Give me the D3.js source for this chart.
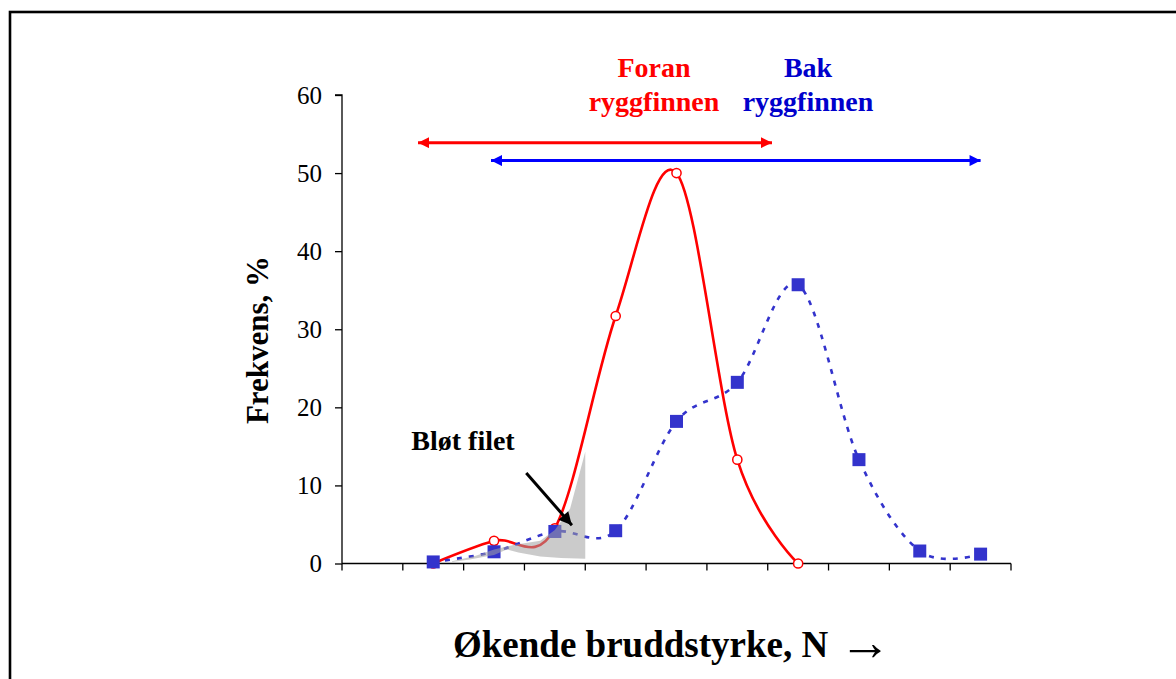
<!DOCTYPE html>
<html>
<head>
<meta charset="utf-8">
<script src="https://cdn.jsdelivr.net/npm/d3@7"></script>
<style>
  html, body { margin: 0; padding: 0; background: #fff; }
  svg { display: block; }
  text { font-family: "Liberation Serif", "Times New Roman", serif; }
</style>
</head>
<body>
<svg id="chart" width="1176" height="679"></svg>
<script>
// ---- data ----
const categories = ["1", "2", "3", "4", "5", "6", "7", "8", "9", "10", "11"];
const foranValues = [null, 0, 2.9, 4.5, 31.7, 50, 13.3, 0, null, null, null];
const bakValues = [null, 0.2, 1.5, 4.1, 4.2, 18.2, 23.2, 35.7, 13.3, 1.6, 1.2];
const yTicks = [0, 10, 20, 30, 40, 50, 60];

const yTitle = "Frekvens, %";
const xTitle = "Økende bruddstyrke, N";
const xTitleArrow = "→";
const foranLabel = ["Foran", "ryggfinnen"];
const bakLabel = ["Bak", "ryggfinnen"];
const softLabel = "Bløt filet";

// annotation ranges in data units (continuous category position, value)
const foranRange = [1.25, 7.07, 53.9];
const bakRange = [2.45, 10.5, 51.6];
const softArea = [[1.81, 0.3], [2.2, 1.0], [2.5, 1.8], [2.84, 2.4], [3.26, 2.9], [3.5, 4.3], [3.75, 7.0], [4.0, 14.3],
                  [4.0, 0.6], [3.6, 0.7], [3.26, 0.9], [2.9, 1.4], [2.71, 1.8], [2.5, 1.1], [2.1, 0.5], [1.81, 0.2]];
const softArrow = [[3.03, 11.6], [3.78, 4.9]];

// ---- layout ----
const svg = d3.select("#chart");
const mLeft = 342, mRight = 1011, mTop = 95, mBottom = 563.5;

const x = d3.scaleBand().domain(categories).range([mLeft, mRight]).padding(0);
const xPos = d3.scaleLinear().domain([0, categories.length]).range([mLeft, mRight]);
const y = d3.scaleLinear().domain([0, 60]).range([mBottom, mTop]);

// frame
svg.append("rect").attr("x", 10).attr("y", 12).attr("width", 1300).attr("height", 800)
  .attr("fill", "none").attr("stroke", "#000").attr("stroke-width", 2.6);

// defs for arrowheads
const defs = svg.append("defs");
function marker(id, color, w, h) {
  defs.append("marker").attr("id", id).attr("viewBox", "0 0 10 10")
    .attr("refX", 10).attr("refY", 5).attr("markerUnits", "userSpaceOnUse")
    .attr("markerWidth", w).attr("markerHeight", h).attr("orient", "auto-start-reverse")
    .append("path").attr("d", "M0,0 L10,5 L0,10 Z").attr("fill", color);
}
marker("arRed", "#ff0000", 13, 11);
marker("arBlue", "#0000ff", 13, 11);
marker("arBlack", "#000", 16, 13);

// axes
const yAxis = d3.axisLeft(y).tickValues(yTicks).tickSize(7).tickPadding(13).tickFormat(d3.format("d"));
const gy = svg.append("g").attr("transform", `translate(${mLeft},0)`).call(yAxis);
gy.select(".domain").attr("stroke", "#000").attr("stroke-width", 1.3).attr("d", `M-7,${y(60)}H0V${y(0)}`);
gy.selectAll(".tick line").attr("stroke", "#000").attr("stroke-width", 1.3);
gy.selectAll(".tick text").attr("font-size", 25).attr("fill", "#000")
  .attr("font-family", "Liberation Serif, serif");

const xBounds = d3.range(categories.length + 1).map(i => xPos(i));
const gx = svg.append("g");
gx.append("line").attr("x1", mLeft).attr("x2", mRight).attr("y1", mBottom).attr("y2", mBottom)
  .attr("stroke", "#000").attr("stroke-width", 1.3);
gx.selectAll("line.t").data(xBounds).join("line").attr("class", "t")
  .attr("x1", d => d).attr("x2", d => d).attr("y1", mBottom).attr("y2", mBottom + 7)
  .attr("stroke", "#000").attr("stroke-width", 1.3);

// series
const curve = d3.curveCardinal.tension(0);
const foranPts = categories.map((c, i) => [c, foranValues[i]]).filter(d => d[1] !== null);
const bakPts = categories.map((c, i) => [c, bakValues[i]]).filter(d => d[1] !== null);
const cx = c => x(c) + x.bandwidth() / 2;
const line = d3.line().x(d => cx(d[0])).y(d => y(d[1])).curve(curve);

svg.append("path").attr("d", line(foranPts)).attr("fill", "none")
  .attr("stroke", "#ff0000").attr("stroke-width", 2.6);
svg.selectAll("circle.f").data(foranPts).join("circle").attr("class", "f")
  .attr("cx", d => cx(d[0])).attr("cy", d => y(d[1])).attr("r", 4.6)
  .attr("fill", "#fff").attr("stroke", "#ff0000").attr("stroke-width", 1.5);

svg.append("path").attr("d", line(bakPts)).attr("fill", "none")
  .attr("stroke", "#3333cc").attr("stroke-width", 2.6).attr("stroke-dasharray", "5,7");
svg.selectAll("rect.b").data(bakPts).join("rect").attr("class", "b")
  .attr("x", d => cx(d[0]) - 6.5).attr("y", d => y(d[1]) - 6.5)
  .attr("width", 13).attr("height", 13).attr("fill", "#3333cc");

// soft fillet shaded area (semi-transparent overlay)
svg.append("path")
  .attr("d", d3.line().x(d => xPos(d[0])).y(d => y(d[1])).curve(d3.curveLinearClosed)(softArea))
  .attr("fill", "#a0a0a0").attr("fill-opacity", 0.55);

// range arrows
svg.append("line").attr("x1", xPos(foranRange[0])).attr("x2", xPos(foranRange[1]))
  .attr("y1", y(foranRange[2])).attr("y2", y(foranRange[2]))
  .attr("stroke", "#ff0000").attr("stroke-width", 3)
  .attr("marker-start", "url(#arRed)").attr("marker-end", "url(#arRed)");
svg.append("line").attr("x1", xPos(bakRange[0])).attr("x2", xPos(bakRange[1]))
  .attr("y1", y(bakRange[2])).attr("y2", y(bakRange[2]))
  .attr("stroke", "#0000ff").attr("stroke-width", 3)
  .attr("marker-start", "url(#arBlue)").attr("marker-end", "url(#arBlue)");

// soft fillet arrow
svg.append("line").attr("x1", xPos(softArrow[0][0])).attr("y1", y(softArrow[0][1]))
  .attr("x2", xPos(softArrow[1][0])).attr("y2", y(softArrow[1][1]))
  .attr("stroke", "#000").attr("stroke-width", 3).attr("marker-end", "url(#arBlack)");

// texts
function label(lines, cxp, y0, color, size) {
  const t = svg.append("text").attr("text-anchor", "middle").attr("font-weight", "bold")
    .attr("font-size", size).attr("fill", color);
  lines.forEach((s, i) => t.append("tspan").attr("x", cxp).attr("y", y0 + i * 34).text(s));
}
label(foranLabel, 654, 77, "#ff0000", 28);
label(bakLabel, 808, 77, "#0000cc", 28);

svg.append("text").attr("x", 463).attr("y", 450).attr("text-anchor", "middle")
  .attr("font-weight", "bold").attr("font-size", 28).attr("fill", "#000").text(softLabel);

svg.append("text").attr("transform", "translate(268,340) rotate(-90)")
  .attr("text-anchor", "middle").attr("font-weight", "bold").attr("font-size", 31)
  .attr("fill", "#000").text(yTitle);

svg.append("text").attr("x", 453).attr("y", 657).attr("text-anchor", "start")
  .attr("font-weight", "bold").attr("font-size", 37).attr("fill", "#000").text(xTitle);
svg.append("text").attr("x", 865).attr("y", 660).attr("text-anchor", "middle")
  .attr("font-family", "DejaVu Serif, serif").attr("font-size", 52).attr("fill", "#000").text(xTitleArrow);
</script>
</body>
</html>
